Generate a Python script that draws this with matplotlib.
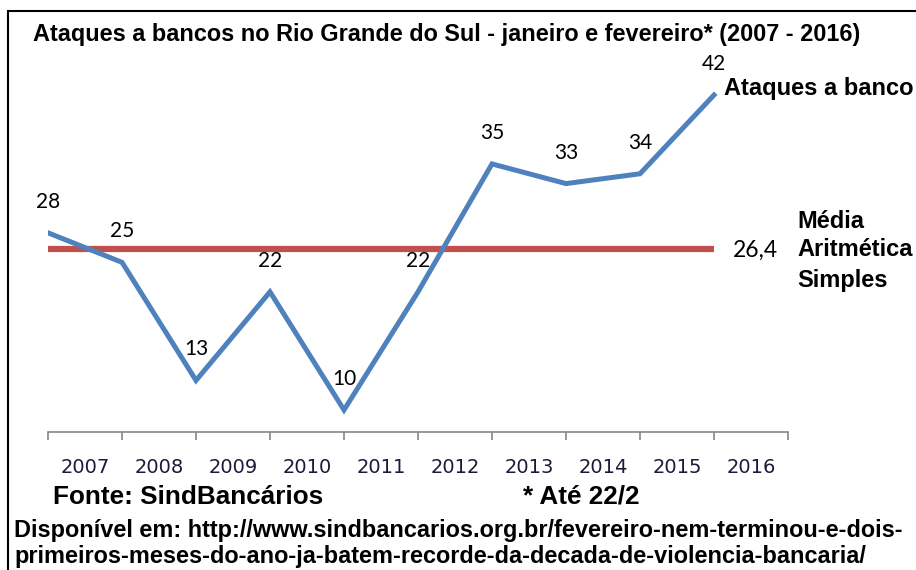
import matplotlib
matplotlib.use('Agg')
import matplotlib.pyplot as plt
from matplotlib.patches import Rectangle

# data
years = ['2007', '2008', '2009', '2010', '2011', '2012', '2013', '2014', '2015', '2016']
ataques = [28, 25, 13, 22, 10, 22, 35, 33, 34, 42]
media = 26.4

W, H = 916, 570


def fx(px):
	'''pixel x -> figure fraction'''
	return px / W


def fy(py):
	'''pixel y (from top) -> figure fraction'''
	return 1 - py / H


def main():
	fig = plt.figure(figsize=(W / 100, H / 100), dpi=100)
	ax = fig.add_axes([fx(48), fy(432), fx(788) - fx(48), fy(65.5) - fy(432)])

	x = list(range(len(years)))

	# mean line and series line
	ax.plot(x, [media] * len(x), color='#C0504D', linewidth=4.5, solid_capstyle='butt')
	ax.plot(x, ataques, color='#4F81BD', linewidth=3.6, solid_joinstyle='miter')

	# data labels
	for xi, v in zip(x, ataques):
		ax.annotate(str(v), (xi, v), xytext=(0, 31), textcoords='offset pixels',
			ha='center', va='center', fontsize=15, family='Lato', color='black')

	ax.set_xlim(0, 10)
	ax.set_ylim(7.76, 45)
	for s in ['top', 'left', 'right']:
		ax.spines[s].set_visible(False)
	ax.spines['bottom'].set_color('#868686')
	ax.spines['bottom'].set_linewidth(1.2)
	ax.set_yticks([])

	ax.set_xticks(range(0, 11))
	ax.set_xticklabels([])
	ax.tick_params(axis='x', which='major', length=6, width=1.2, color='#868686')
	ax.set_xticks([i + 0.5 for i in x], minor=True)
	ax.set_xticklabels(years, minor=True, fontsize=14, family='DejaVu Sans', color='#1a1a3a')
	ax.tick_params(axis='x', which='minor', length=0, pad=19)

	# titles and notes
	bold = dict(fontweight='bold', family='Liberation Sans', ha='left', va='center')
	fig.text(fx(33), fy(35), 'Ataques a bancos no Rio Grande do Sul - janeiro e fevereiro* (2007 - 2016)',
		fontsize=16.9, **bold)
	fig.text(fx(724), fy(88), 'Ataques a banco', fontsize=17, **bold)
	fig.text(fx(797), fy(221), 'Média', fontsize=17, **bold)
	fig.text(fx(797), fy(250), 'Aritmética', fontsize=17, **bold)
	fig.text(fx(797), fy(281), 'Simples', fontsize=17, **bold)
	fig.text(fx(733), fy(250), '26,4', ha='left', va='center',
		fontsize=16.5, family='Lato', color='black')

	fig.text(fx(53), fy(497), 'Fonte: SindBancários', fontsize=18.8, **bold)
	fig.text(fx(523), fy(497), '* Até 22/2', fontsize=18.8, **bold)
	fig.text(fx(14), fy(531), 'Disponível em: http://www.sindbancarios.org.br/fevereiro-nem-terminou-e-dois-',
		fontsize=16.9, **bold)
	fig.text(fx(14), fy(557), 'primeiros-meses-do-ano-ja-batem-recorde-da-decada-de-violencia-bancaria/',
		fontsize=16.9, **bold)

	# frame around the picture (top and left edges visible)
	fig.patches.append(Rectangle((fx(8), fy(600)), 2, fy(11) - fy(600), transform=fig.transFigure,
		fill=False, edgecolor='black', linewidth=1.5))

	fig.savefig('out.png', dpi=100)


if __name__ == '__main__':
	main()
